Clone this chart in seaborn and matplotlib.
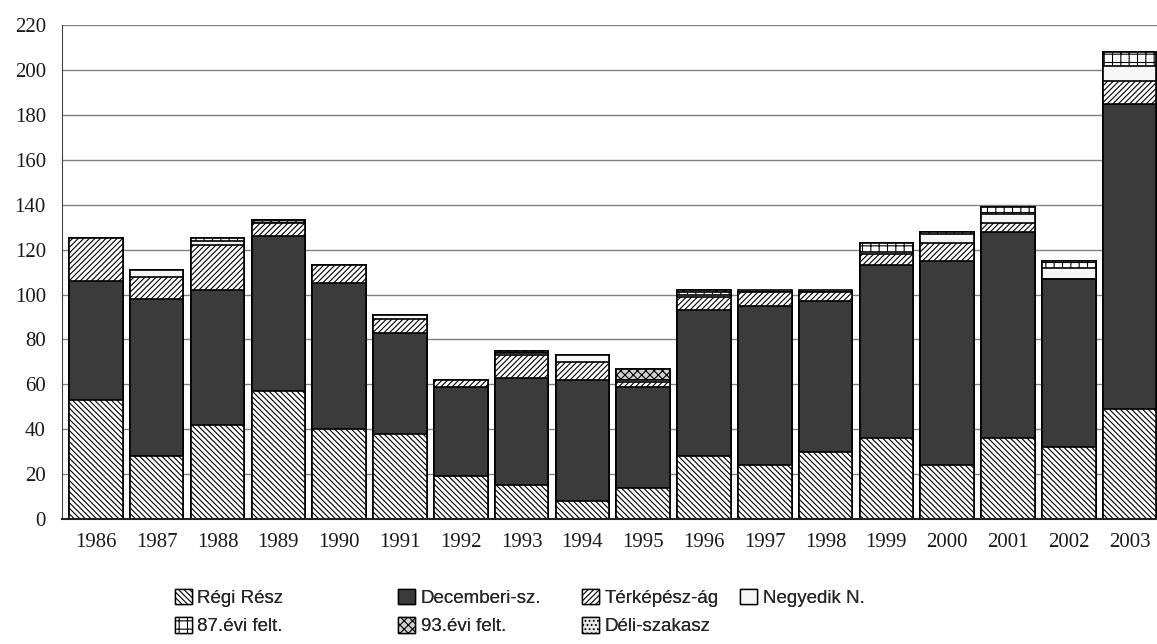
import matplotlib
matplotlib.use('Agg')
import matplotlib.pyplot as plt
import numpy as np
import seaborn as sns

# adatok
years = ['1986', '1987', '1988', '1989', '1990', '1991', '1992', '1993', '1994',
         '1995', '1996', '1997', '1998', '1999', '2000', '2001', '2002', '2003']
regi = [53, 28, 42, 57, 40, 38, 19, 15, 8, 14, 28, 24, 30, 36, 24, 36, 32, 49]
decemberi = [53, 70, 60, 69, 65, 45, 40, 48, 54, 45, 65, 71, 67, 77, 91, 92, 75, 136]
terkepesz = [19, 10, 20, 6, 8, 6, 3, 10, 8, 2, 6, 6, 4, 5, 8, 4, 0, 10]
negyedik = [0, 3, 2, 0, 0, 2, 0, 1, 3, 1, 1, 0, 0, 1, 4, 4, 5, 7]
felt87 = [0, 0, 1, 1, 0, 0, 0, 0, 0, 0, 1, 0, 0, 4, 1, 3, 3, 6]
felt93 = [0, 0, 0, 0, 0, 0, 0, 1, 0, 5, 1, 0, 0, 0, 0, 0, 0, 0]
deli = [0, 0, 0, 0, 0, 0, 0, 0, 0, 0, 0, 1, 1, 0, 0, 0, 0, 0]

labels = ['Régi Rész', 'Decemberi-sz.', 'Térképész-ág', 'Negyedik N.',
          '87.évi felt.', '93.évi felt.', 'Déli-szakasz']
series = [regi, decemberi, terkepesz, negyedik, felt87, felt93, deli]
colors = ['white', '#3b3b3b', 'white', '#f6f6f6', 'white', '#d0d0d0', '#e8e8e8']
hatches = ['\\' * 6, '', '/' * 6, '', '++', 'xxxx', '....']

sns.set_style('white')
plt.rcParams['hatch.linewidth'] = 0.8
plt.rcParams['hatch.color'] = 'black'

fig = plt.figure(figsize=(11.57, 6.44), dpi=100)
ax = fig.add_axes([0.054, 0.194, 0.946, 0.767])

ax.set_axisbelow(True)
ax.yaxis.grid(True, color='#808080', linewidth=1)

cum = np.cumsum(np.array(series), axis=0)
# draw from top layer down so lower segments cover upper ones
for i in range(len(series) - 1, -1, -1):
    sns.barplot(x=years, y=cum[i], color=colors[i], saturation=1, width=0.88,
                edgecolor='black', linewidth=1.2, hatch=hatches[i], ax=ax)

ax.set_ylim(0, 220)
ax.set_xlim(-0.55, 17.45)
ax.set_yticks(range(0, 221, 20))
ax.set_xlabel('')
ax.set_ylabel('')
for s in ['top', 'right']:
    ax.spines[s].set_visible(False)
ax.spines['left'].set_color('#444444')
ax.spines['bottom'].set_color('#222222')
ax.spines['bottom'].set_linewidth(1.5)
ax.tick_params(axis='y', direction='out', length=8, width=1, color='#555555', pad=4)
ax.tick_params(axis='x', length=0, pad=10)
for t in ax.get_xticklabels() + ax.get_yticklabels():
    t.set_fontfamily('Liberation Serif')
    t.set_fontsize(15)
    t.set_color('#1a1a1a')

handles = [matplotlib.patches.Patch(facecolor=colors[i], edgecolor='black',
                                    hatch=hatches[i], label=labels[i])
           for i in range(len(labels))]
# legend columns: (top entry, bottom entry), left edge in figure fraction
columns = [([0, 4], 0.151), ([1, 5], 0.344), ([2, 6], 0.503), ([3], 0.640)]
for idx, xpos in columns:
    leg = fig.legend([handles[i] for i in idx], [labels[i] for i in idx],
                     loc='upper left', bbox_to_anchor=(xpos, 0.086), frameon=False,
                     prop={'family': 'Liberation Sans', 'size': 13.5},
                     handlelength=0.9, handleheight=0.9, handletextpad=0.3,
                     labelspacing=0.55, borderpad=0, borderaxespad=0)
    fig.add_artist(leg)

fig.savefig('out.png', dpi=100)
